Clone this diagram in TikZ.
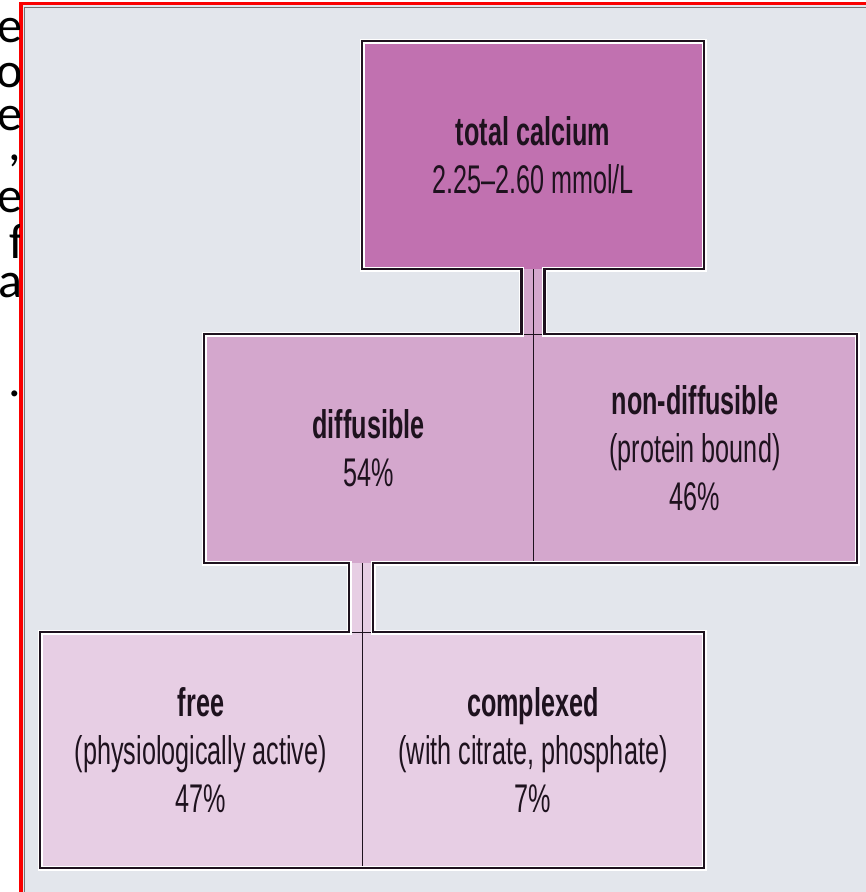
\documentclass[tikz,border=0pt]{standalone}
\usepackage{fontspec}
\usepackage{tikz}
\usetikzlibrary{positioning,calc}
\newfontfamily\boxfont[FakeStretch=0.63]{Liberation Sans}
\newfontfamily\slidefont{Carlito}
\definecolor{panelcol}{RGB}{227,230,236}
\definecolor{topcol}{RGB}{193,113,176}
\definecolor{midcol}{RGB}{212,167,205}
\definecolor{lowcol}{RGB}{231,206,228}
\definecolor{framecol}{RGB}{250,0,0}
\definecolor{inkcol}{RGB}{30,18,30}
\tikzset{
  % calcium fraction box
  cabox/.style={rectangle, fill=#1, draw=inkcol, line width=1pt, inner sep=0pt, outer sep=0pt,
               align=center, text=inkcol, font=\boxfont\fontsize{40}{48}\selectfont},
  cabox/.default={midcol},
  % outline round the whole tree
  treeline/.style={draw=inkcol, line width=2.4pt, line join=miter,
                   preaction={draw=white, line width=5pt}},
  % divider between two boxes
  divline/.style={draw=inkcol, line width=1pt},
  % letters of the slide text cut off at the left
  slidetext/.style={anchor=base east, inner sep=0pt, text=black, font=\slidefont\fontsize{50}{50}\selectfont},
}

\begin{document}
\begin{tikzpicture}[x=1pt, y=-1pt]
  \useasboundingbox (0,0) rectangle (866,892);

  % ── panel and red frame ──
  \fill[white] (0,0) rectangle (866,892);
  \fill[panelcol] (21,3) rectangle (866,892);
  \draw[black!55, line width=1pt] (24,892) -- (24,7.5) -- (866,7.5);
  \draw[framecol, line width=3.5pt] (21,892) -- (21,3.5) -- (866,3.5);

  % ── slide text cut off at the left ──
  \begin{scope}
    \clip (0,0) rectangle (19.5,892);
    \node[slidetext] (s1) at (23,42) {e};
    \node[slidetext] (s2) at (23,87) {o};
    \node[slidetext] (s3) at (23,130) {e};
    \node[slidetext] (s4) at (21,160) {,};
    \node[slidetext] (s5) at (23,212) {e};
    \node[slidetext] (s6) at (25,258) {f};
    \node[slidetext] (s7) at (23,297) {a};
    \node[slidetext] (s8) at (21,396) {.};
  \end{scope}

  % ── boxes ──
  \node[cabox=topcol, minimum width=342pt, minimum height=228pt] (total) at (533,155)
    {\textbf{total calcium}\\2.25–2.60 mmol/L};
  \node[cabox, minimum width=329pt, minimum height=229pt] (diff) at (368.5,448.5)
    {\textbf{diffusible}\\54\%};
  \node[cabox, minimum width=324pt, minimum height=229pt, right=0pt of diff] (nondiff)
    {\textbf{non-diffusible}\\(protein bound)\\46\%};
  \node[cabox=lowcol, minimum width=322pt, minimum height=236pt] (free) at (201,750)
    {\textbf{free}\\(physiologically active)\\47\%};
  \node[cabox=lowcol, minimum width=342pt, minimum height=236pt, right=0pt of free] (cplx)
    {\textbf{complexed}\\(with citrate, phosphate)\\7\%};

  % ── necks between the rows ──
  \coordinate (n1l) at ([xshift=-11.5pt]total.south);
  \coordinate (n1r) at ([xshift=11.5pt]total.south);
  \coordinate (n2l) at ([xshift=-13pt]free.north east);
  \coordinate (n2r) at ([xshift=11pt]free.north east);
  \fill[midcol] (n1l) rectangle (n1r |- diff.north);
  \fill[lowcol] (n2l |- diff.south) rectangle (n2r);
  \draw[divline] (total.south) -- (diff.south east);
  \draw[divline] (free.north east |- diff.south) -- (free.south east);

  % outline
  \path[treeline] (total.north west) -- (total.north east) -- (total.south east)
    -- (n1r) -- (n1r |- nondiff.north) -- (nondiff.north east) -- (nondiff.south east)
    -- (n2r |- nondiff.south) -- (n2r) -- (cplx.north east) -- (cplx.south east)
    -- (free.south west) -- (free.north west) -- (n2l) -- (n2l |- diff.south)
    -- (diff.south west) -- (diff.north west) -- (n1l |- diff.north) -- (n1l)
    -- (total.south west) -- cycle;

\end{tikzpicture}
\end{document}
